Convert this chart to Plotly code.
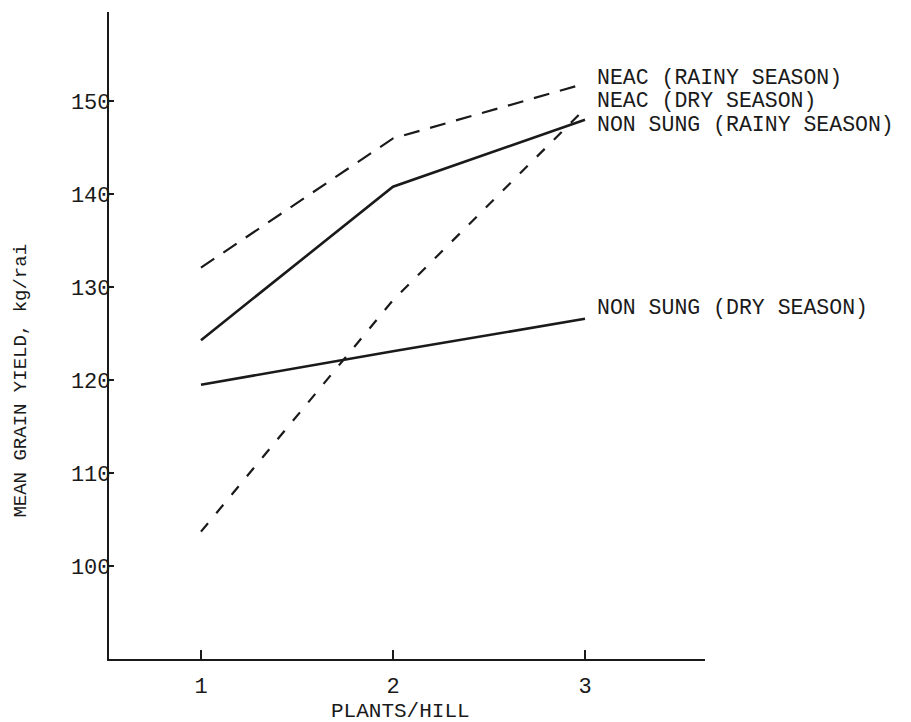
import plotly.graph_objects as go

# ---- data ----
plants_per_hill = [1, 2, 3]
neac_rainy = [132.1, 146.0, 151.9]
neac_dry = [103.7, 128.6, 149.2]
nonsung_rainy = [124.3, 140.8, 148.0]
nonsung_dry = [119.5, 123.1, 126.6]

series_names = [
    "NEAC (RAINY SEASON)",
    "NEAC (DRY SEASON)",
    "NON SUNG (RAINY SEASON)",
    "NON SUNG (DRY SEASON)",
]
y_ticks = [100, 110, 120, 130, 140, 150]
x_ticks = [1, 2, 3]

FONT = "Courier New, Liberation Mono, monospace"
INK = "#1a1a1a"

fig = go.Figure()
styles = [
    dict(dash="16px,11px", width=2.2),
    dict(dash="11px,13px", width=2.2),
    dict(dash="solid", width=2.6),
    dict(dash="solid", width=2.6),
]
all_series = [neac_rainy, neac_dry, nonsung_rainy, nonsung_dry]
for name, vals, st in zip(series_names, all_series, styles):
    fig.add_trace(go.Scatter(
        x=plants_per_hill, y=vals, mode="lines", name=name,
        line=dict(color=INK, width=st["width"], dash=st["dash"]),
        showlegend=False,
    ))

# end labels, offset slightly from each line's last value
label_offsets = [0.55, 0.8, -0.6, 1.2]
for name, vals, off in zip(series_names, all_series, label_offsets):
    fig.add_annotation(
        x=plants_per_hill[-1] + 0.052, y=vals[-1] + off, xref="x", yref="y",
        text=name, showarrow=False, xanchor="left", yanchor="middle",
        font=dict(family=FONT, size=21.5, color=INK),
    )

# y axis title
fig.add_annotation(
    x=-0.148, y=0.43, xref="paper", yref="paper",
    text="MEAN GRAIN YIELD, kg/rai", textangle=-90, showarrow=False,
    xanchor="center", yanchor="middle",
    font=dict(family=FONT, size=19, color=INK),
)
# x axis title (centred just right of the middle tick, as in the original)
fig.add_annotation(
    x=x_ticks[1] + 0.04, y=-0.081, xref="x", yref="paper",
    text="PLANTS/HILL", showarrow=False,
    xanchor="center", yanchor="middle",
    font=dict(family=FONT, size=21, color=INK),
)

fig.update_layout(
    width=903, height=714,
    margin=dict(l=101, r=206, t=4, b=63),
    plot_bgcolor="white", paper_bgcolor="white",
    font=dict(family=FONT, color=INK),
)
fig.update_xaxes(
    range=[0.521, 3.625], tickvals=x_ticks, ticktext=[str(v) for v in x_ticks],
    showline=True, linecolor=INK, linewidth=2.2, mirror=False,
    ticks="inside", ticklen=9, tickwidth=1.5, tickcolor=INK,
    showgrid=False, zeroline=False, automargin=False,
    ticklabelstandoff=5,
    tickfont=dict(family=FONT, size=22, color=INK),
)
fig.update_yaxes(
    range=[90, 159.6], tickvals=y_ticks, ticktext=[str(v) for v in y_ticks],
    showline=True, linecolor=INK, linewidth=2.2,
    ticks="inside", ticklen=5, tickwidth=1.5, tickcolor=INK,
    showgrid=False, zeroline=False, automargin=False,
    ticklabelstandoff=-8,
    tickfont=dict(family=FONT, size=22, color=INK),
)

fig.write_html("out.html")
